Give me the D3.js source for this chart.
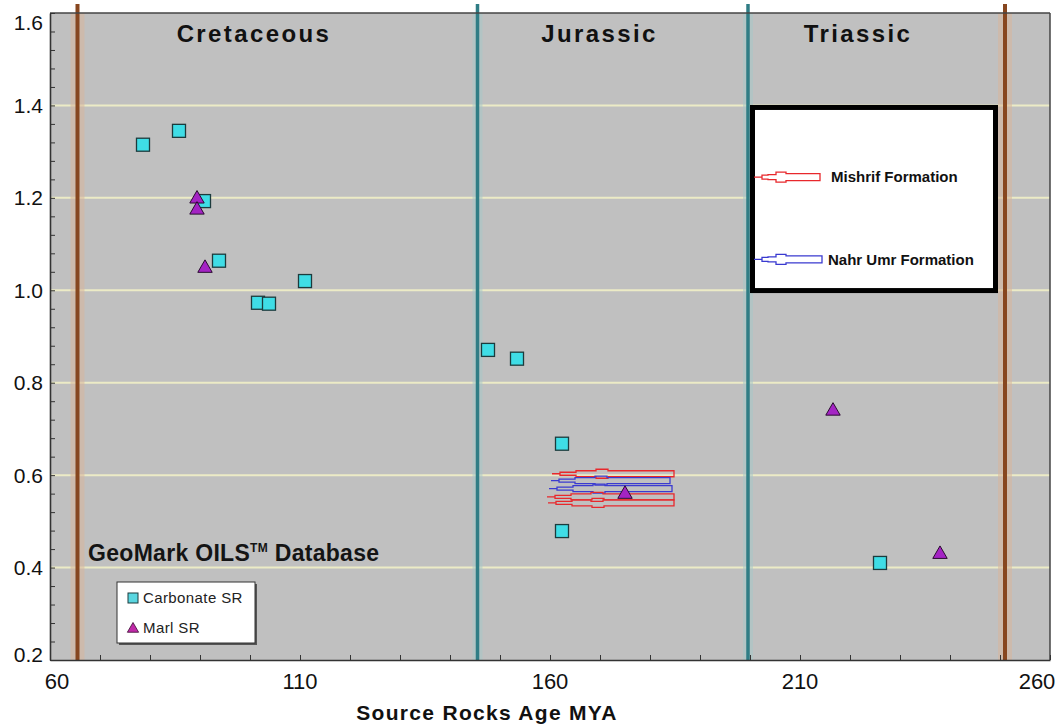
<!DOCTYPE html>
<html><head><meta charset="utf-8">
<script src="https://cdn.jsdelivr.net/npm/d3@7"></script>
<style>
body{margin:0;background:#fff;}
svg{display:block;font-family:"Liberation Sans",Arial,sans-serif;}
</style></head>
<body>
<svg id="c" width="1060" height="727"></svg>
<script>
// ---- data ----
const carbonateAge = [78.6, 85.8, 90.8, 93.8, 101.6, 103.8, 111.0, 147.6, 153.4, 162.4, 162.4, 226.0];
const carbonateRatio = [1.315, 1.345, 1.193, 1.064, 0.973, 0.971, 1.020, 0.871, 0.852, 0.668, 0.479, 0.410];
const marlAge = [89.4, 89.4, 91.0, 175.0, 216.6, 238.0];
const marlRatio = [1.200, 1.176, 1.050, 0.561, 0.741, 0.431];
const boundaryAges = [65.5, 145.5, 199.6, 251.0];
const boundaryKinds = ["brown", "teal", "teal", "brown"];
const periodNames = ["Cretaceous", "Jurassic", "Triassic"];
const periodCenters = [100.8, 169.9, 221.6];
const xTickLabels = [60, 110, 160, 210, 260];
const yTickLabels = ["0.2", "0.4", "0.6", "0.8", "1.0", "1.2", "1.4", "1.6"];
const yGrid = [0.4, 0.6, 0.8, 1.0, 1.2, 1.4];
// annotation arrows (tip age, tail age, ratio, colour)
const arrowTip = [160.4, 160.2, 159.8, 159.4, 159.6];
const arrowTail = [184.8, 184.0, 184.4, 184.8, 184.8];
const arrowRatio = [0.603, 0.588, 0.571, 0.553, 0.540];
const arrowColor = ["#e8282c", "#3a3ad0", "#3a3ad0", "#e8282c", "#e8282c"];
const noteLabels = ["Mishrif Formation", "Nahr Umr Formation"];
const noteColors = ["#e8282c", "#3a3ad0"];

const W = 1060, H = 727;
const L = 50, R = 1050, T = 13, B = 660;
const x = d3.scaleLinear().domain([60, 260]).range([L, R]);
const y = d3.scaleLinear().domain([0.2, 1.6]).range([B, T]);
const svg = d3.select("#c");

// plot background
svg.append("rect").attr("x", L).attr("y", T).attr("width", R - L).attr("height", B - T).attr("fill", "#c0c0c0");

// gridlines
svg.append("g").selectAll("line").data(yGrid).join("line")
  .attr("x1", L).attr("x2", R).attr("y1", d => y(d)).attr("y2", d => y(d))
  .attr("stroke", "#ecebc6").attr("stroke-width", 2);

// boundary halos and lines
const halo = {brown: "#d8b69c", teal: "#a8c8c8"};
const lineCol = {brown: "#87461f", teal: "#2f7d85"};
svg.append("g").selectAll("line").data(boundaryAges).join("line")
  .attr("x1", d => x(d)).attr("x2", d => x(d)).attr("y1", T).attr("y2", B)
  .attr("stroke", (d, i) => halo[boundaryKinds[i]])
  .attr("stroke-width", (d, i) => boundaryKinds[i] === "brown" ? 14 : 10)
  .attr("opacity", 0.55);
svg.append("g").selectAll("line").data(boundaryAges).join("line")
  .attr("x1", d => x(d)).attr("x2", d => x(d)).attr("y1", 4).attr("y2", B)
  .attr("stroke", (d, i) => lineCol[boundaryKinds[i]])
  .attr("stroke-width", (d, i) => boundaryKinds[i] === "brown" ? 4 : 3.5);

// frame
svg.append("line").attr("x1", L).attr("x2", R).attr("y1", T).attr("y2", T).attr("stroke", "#444").attr("stroke-width", 1.5);
svg.append("line").attr("x1", R).attr("x2", R).attr("y1", T).attr("y2", B).attr("stroke", "#444").attr("stroke-width", 1.5);

// axes (inward ticks)
const xAxis = d3.axisBottom(x).tickValues(d3.range(60, 261, 10)).tickSize(0).tickSizeInner(-5).tickFormat("");
const gx = svg.append("g").attr("transform", `translate(0,${B})`).call(xAxis);
const yAxis = d3.axisLeft(y).tickValues(d3.range(0, 36).map(i => 0.2 + i * 0.04)).tickSizeOuter(0).tickSizeInner(-5).tickFormat("");
const gy = svg.append("g").attr("transform", `translate(${L},0)`).call(yAxis);
[gx, gy].forEach(g => { g.select(".domain").attr("stroke", "#333").attr("stroke-width", 1.6); g.selectAll(".tick line").attr("stroke", "#333"); });

// tick labels
svg.append("g").selectAll("text").data(yTickLabels).join("text")
  .attr("x", 43).attr("y", d => Math.min(Math.max(y(+d), 22), 654))
  .attr("dy", "0.36em").attr("text-anchor", "end")
  .attr("font-size", 21).attr("fill", "#111").text(d => d);
svg.append("g").selectAll("text").data(xTickLabels).join("text")
  .attr("x", d => Math.min(Math.max(x(d), 57), 1037)).attr("y", 681)
  .attr("dy", "0.36em").attr("text-anchor", "middle")
  .attr("font-size", 22).attr("fill", "#111").text(d => d);

// axis title
svg.append("text").attr("x", 487).attr("y", 720).attr("text-anchor", "middle")
  .attr("font-size", 21).attr("font-weight", "bold").attr("letter-spacing", 1.3).attr("fill", "#111")
  .text("Source Rocks Age MYA");

// period names
svg.append("g").selectAll("text").data(periodNames).join("text")
  .attr("x", (d, i) => x(periodCenters[i])).attr("y", 42).attr("text-anchor", "middle")
  .attr("font-size", 24).attr("font-weight", "bold").attr("letter-spacing", 2.4).attr("fill", "#111")
  .text(d => d);

// GeoMark label
const gm = svg.append("text").attr("x", 88).attr("y", 561).attr("font-size", 23).attr("font-weight", "bold")
  .attr("letter-spacing", 0.3).attr("fill", "#141414");
gm.append("tspan").text("GeoMark OILS");
gm.append("tspan").attr("font-size", 12).attr("dy", -9).text("TM");
gm.append("tspan").attr("dy", 9).text(" Database");

// arrow path generator: tip at (0,0) pointing left, length len
function arrowPath(len, s) {
  const a = s.lead, b = s.narrowEnd, c = s.midEnd, e = s.bulgeEnd;
  const p = [[0, 0], [a, 0], [a, -s.h1], [b, -s.h1], [b, -s.h2], [c, -s.h2], [c, -s.h3], [e, -s.h3], [e, -s.h4], [len, -s.h4],
             [len, s.h4], [e, s.h4], [e, s.h3], [c, s.h3], [c, s.h2], [b, s.h2], [b, s.h1], [a, s.h1], [a, 0]];
  return "M" + p.map(q => q.join(",")).join("L") + "Z";
}
const plotArrowStyle = {lead: 8, narrowEnd: 24, midEnd: 44, bulgeEnd: 56, h1: 1.5, h2: 3, h3: 4.5, h4: 3};
const boxArrowStyle = {lead: 8, narrowEnd: 14, midEnd: 22, bulgeEnd: 32, h1: 2, h2: 2.5, h3: 5, h4: 3.5};

// annotation arrows on plot
svg.append("g").selectAll("path").data(arrowRatio).join("path")
  .attr("transform", (d, i) => `translate(${x(arrowTip[i])},${y(d)})`)
  .attr("d", (d, i) => arrowPath(x(arrowTail[i]) - x(arrowTip[i]), plotArrowStyle))
  .attr("fill", "none").attr("stroke", (d, i) => arrowColor[i]).attr("stroke-width", 1.3);

// annotation box
const bx0 = x(200), bx1 = x(249.6), by0 = y(1.401), by1 = y(0.994);
svg.append("rect").attr("x", bx0 + 2.5).attr("y", by0 + 2.5).attr("width", bx1 - bx0 - 5).attr("height", by1 - by0 - 5)
  .attr("fill", "#fff").attr("stroke", "#000").attr("stroke-width", 5);
const noteY = [y(1.245), y(1.067)];
svg.append("g").selectAll("path").data(noteLabels).join("path")
  .attr("transform", (d, i) => `translate(${bx0 + 4},${noteY[i]})`)
  .attr("d", (d, i) => arrowPath(i === 0 ? 66 : 68, boxArrowStyle))
  .attr("fill", "#fff").attr("stroke", (d, i) => noteColors[i]).attr("stroke-width", 1.3);
svg.append("g").selectAll("text").data(noteLabels).join("text")
  .attr("x", (d, i) => i === 0 ? bx0 + 81 : bx0 + 78).attr("y", (d, i) => noteY[i]).attr("dy", "0.36em")
  .attr("font-size", 15).attr("font-weight", "bold").attr("fill", "#111").text(d => d);

// markers
const sq = 13;
svg.append("g").selectAll("rect").data(carbonateAge).join("rect")
  .attr("x", (d, i) => x(d) - sq / 2).attr("y", (d, i) => y(carbonateRatio[i]) - sq / 2)
  .attr("width", sq).attr("height", sq)
  .attr("fill", "#3fdde6").attr("stroke", "#1c3b3d").attr("stroke-width", 1.3);
const tri = d3.symbol().type(d3.symbolTriangle).size(90);
svg.append("g").selectAll("path").data(marlAge).join("path")
  .attr("transform", (d, i) => `translate(${x(d)},${y(marlRatio[i]) + 1})`)
  .attr("d", tri).attr("fill", "#a424c4").attr("stroke", "#2a0b30").attr("stroke-width", 1);

// series legend
const lg = svg.append("g");
lg.append("rect").attr("x", 119).attr("y", 584).attr("width", 138).attr("height", 61).attr("fill", "#555");
lg.append("rect").attr("x", 117).attr("y", 582).attr("width", 138).attr("height", 61).attr("fill", "#fff").attr("stroke", "#333").attr("stroke-width", 1);
lg.append("rect").attr("x", 128).attr("y", 593).attr("width", 10).attr("height", 10)
  .attr("fill", "#5ad6e0").attr("stroke", "#1c3b3d").attr("stroke-width", 1);
lg.append("path").attr("transform", "translate(133,629)").attr("d", d3.symbol().type(d3.symbolTriangle).size(55))
  .attr("fill", "#c02aa8").attr("stroke", "#3a0b30").attr("stroke-width", 0.8);
lg.append("text").attr("x", 143).attr("y", 598).attr("dy", "0.36em").attr("font-size", 15).attr("letter-spacing", 0.4).attr("fill", "#222").text("Carbonate SR");
lg.append("text").attr("x", 143).attr("y", 628).attr("dy", "0.36em").attr("font-size", 15).attr("letter-spacing", 0.4).attr("fill", "#222").text("Marl SR");
</script>
</body></html>
